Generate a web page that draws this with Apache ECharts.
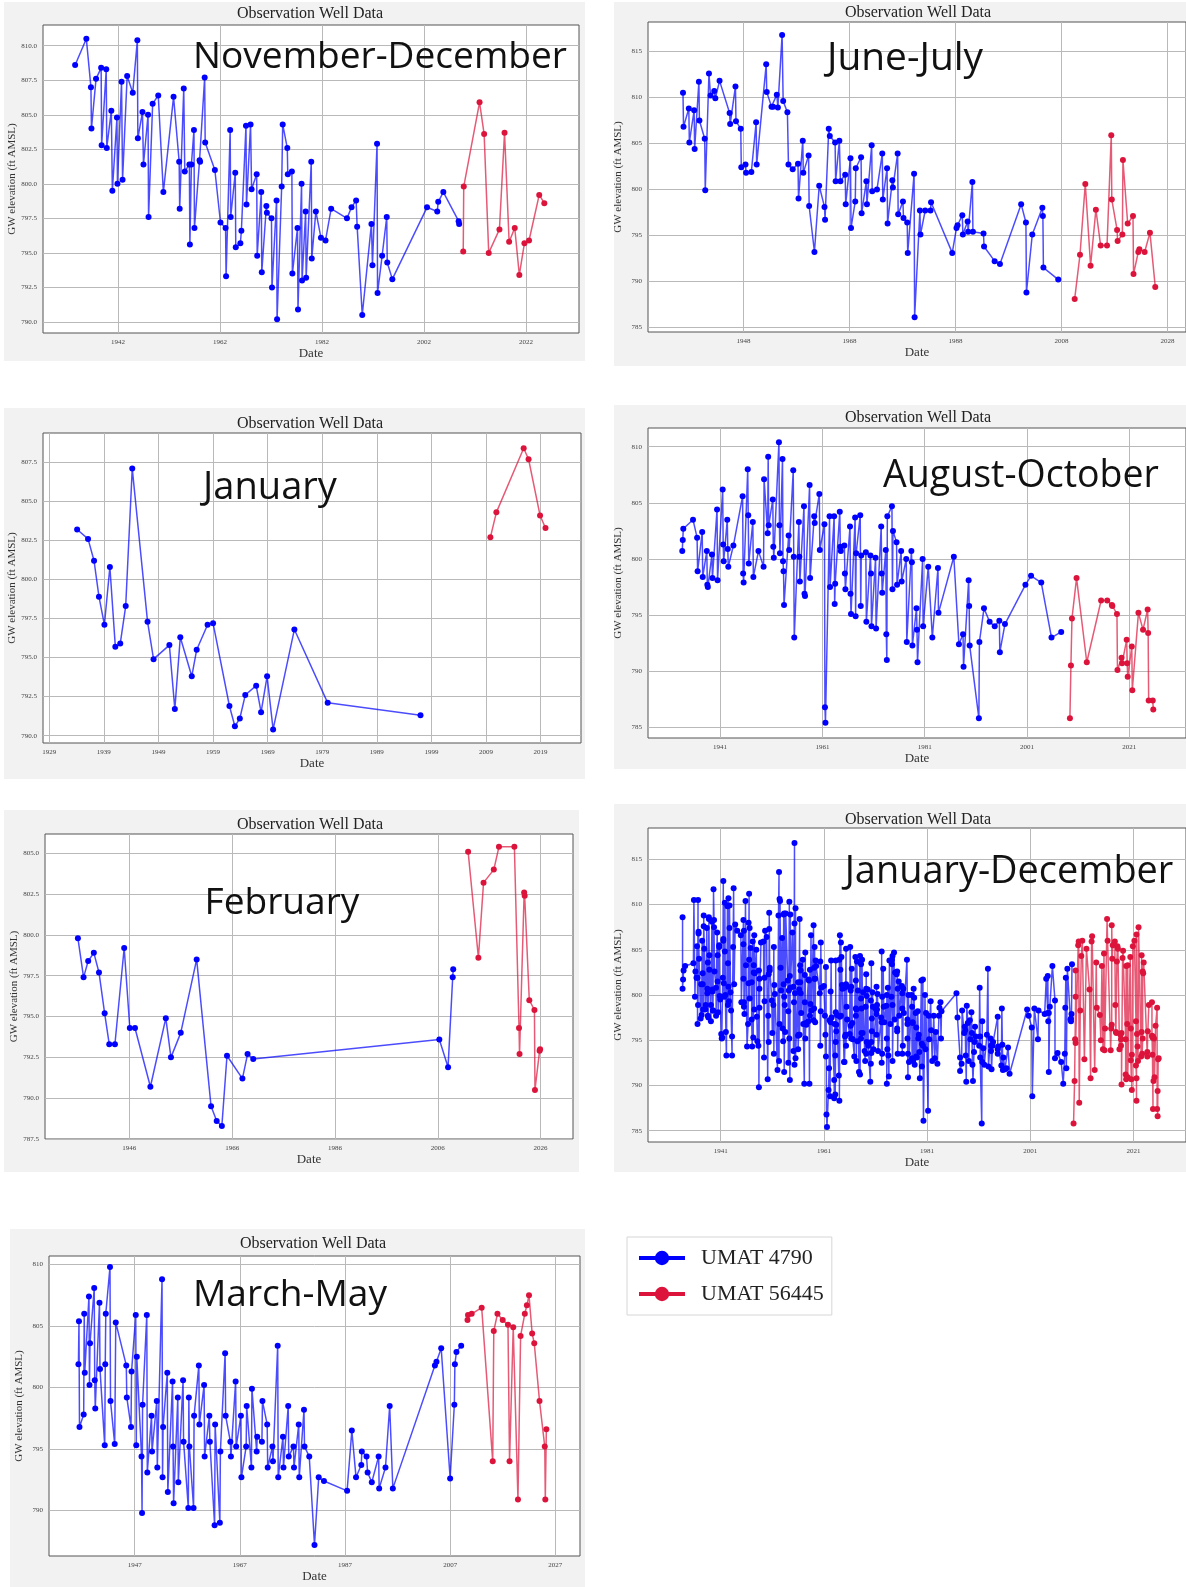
<!DOCTYPE html>
<html><head><meta charset="utf-8">
<script src="https://cdn.jsdelivr.net/npm/echarts@6/dist/echarts.min.js"></script>
<style>html,body{margin:0;padding:0;background:#fff}#c{width:1186px;height:1587px}</style>
</head><body><div id="c"></div>
<script>
// ---------------- DATA (year, GW elevation ft AMSL) ----------------
const seriesNames = ['UMAT 4790', 'UMAT 56445'];

const novDecBlue = [[1933.6,808.6],[1935.8,810.5],[1936.7,807.0],[1936.8,804.0],[1937.7,807.6],[1938.7,808.4],[1938.8,802.8],[1939.7,808.3],[1939.8,802.6],[1940.7,805.3],[1940.9,799.5],[1941.8,804.8],[1941.9,800.0],[1942.7,807.4],[1942.9,800.3],[1943.8,807.8],[1944.9,806.6],[1945.8,810.4],[1945.9,803.3],[1946.8,805.2],[1947.0,801.4],[1947.9,805.0],[1948.0,797.6],[1948.8,805.8],[1949.9,806.4],[1950.9,799.4],[1952.9,806.3],[1954.0,801.6],[1954.1,798.2],[1954.9,806.9],[1955.1,800.9],[1956.0,801.4],[1956.1,795.6],[1956.4,801.4],[1956.9,803.9],[1957.0,796.8],[1958.0,801.7],[1958.1,801.6],[1959.0,807.7],[1959.1,803.0],[1961.0,801.0],[1962.1,797.2],[1963.1,796.8],[1963.2,793.3],[1964.0,803.9],[1964.1,797.6],[1965.0,800.8],[1965.1,795.4],[1966.0,795.7],[1966.2,796.6],[1967.1,804.2],[1967.2,798.5],[1968.0,804.3],[1968.2,799.6],[1969.2,800.7],[1969.3,794.8],[1970.1,799.4],[1970.2,793.6],[1971.1,798.4],[1971.2,797.9],[1972.1,797.5],[1972.2,792.5],[1973.1,798.8],[1973.2,790.2],[1974.1,799.8],[1974.3,804.3],[1975.2,802.6],[1975.3,800.7],[1976.1,800.9],[1976.2,793.5],[1977.2,796.8],[1977.3,790.9],[1978.0,800.0],[1978.1,793.0],[1978.8,798.0],[1978.9,793.2],[1979.9,801.6],[1980.0,794.6],[1980.8,798.0],[1981.8,796.1],[1982.7,795.9],[1983.8,798.2],[1986.9,797.5],[1987.8,798.3],[1988.7,798.8],[1988.9,796.9],[1989.9,790.5],[1991.7,797.1],[1991.9,794.1],[1992.8,802.9],[1992.9,792.1],[1993.8,794.8],[1994.7,797.6],[1994.8,794.3],[1995.8,793.1],[2002.6,798.3],[2004.6,798.0],[2004.8,798.7],[2005.8,799.4],[2008.8,797.3],[2008.9,797.1]];
const novDecRed = [[2009.7,795.1],[2009.8,799.8],[2012.9,805.9],[2013.8,803.6],[2014.7,795.0],[2016.8,796.7],[2017.8,803.7],[2018.7,795.8],[2019.8,796.8],[2020.7,793.4],[2021.7,795.7],[2022.6,795.9],[2024.6,799.2],[2025.6,798.6]];

const junJulBlue = [[1936.6,810.5],[1936.7,806.8],[1937.7,808.8],[1937.8,805.1],[1938.7,808.6],[1938.8,804.4],[1939.6,811.7],[1939.7,807.5],[1940.7,805.5],[1940.8,799.9],[1941.5,812.6],[1941.8,810.2],[1942.5,810.7],[1942.7,809.9],[1943.5,811.8],[1945.4,808.3],[1945.5,807.1],[1946.5,811.2],[1946.6,807.4],[1947.5,806.6],[1947.6,802.4],[1948.4,802.7],[1948.5,801.8],[1949.5,801.9],[1950.4,807.3],[1950.5,802.7],[1952.3,813.6],[1952.4,810.6],[1953.3,809.0],[1953.6,809.0],[1954.3,810.3],[1954.5,808.9],[1955.3,816.8],[1955.5,809.6],[1956.3,808.4],[1956.5,802.7],[1957.3,802.2],[1958.3,802.8],[1958.4,799.0],[1959.2,805.3],[1959.3,801.8],[1960.3,803.7],[1960.4,798.2],[1961.4,793.2],[1962.3,800.4],[1963.3,798.1],[1963.4,796.7],[1964.1,806.6],[1964.3,805.8],[1965.3,805.1],[1965.4,800.9],[1966.1,805.3],[1966.3,800.9],[1967.2,801.6],[1967.3,798.4],[1968.2,803.4],[1968.3,795.8],[1969.1,798.7],[1969.2,802.3],[1970.2,803.5],[1970.3,797.4],[1971.2,800.9],[1971.3,798.4],[1972.2,804.8],[1972.3,799.8],[1973.2,800.0],[1974.2,803.9],[1974.3,798.9],[1975.1,802.3],[1975.2,796.3],[1976.1,801.0],[1976.2,800.2],[1977.1,803.9],[1977.2,797.3],[1978.1,798.7],[1978.2,796.9],[1978.9,796.4],[1979.0,793.1],[1980.2,801.7],[1980.3,786.1],[1981.3,797.7],[1981.4,795.1],[1982.3,797.7],[1983.3,797.7],[1983.4,798.6],[1987.4,793.1],[1988.2,795.8],[1988.4,796.1],[1989.3,797.2],[1989.4,795.1],[1990.3,796.5],[1990.4,795.4],[1991.2,800.8],[1991.3,795.4],[1993.3,795.2],[1993.4,793.8],[1995.4,792.2],[1996.4,791.9],[2000.4,798.4],[2001.3,796.4],[2001.4,788.8],[2002.5,795.1],[2004.4,798.0],[2004.5,797.1],[2004.6,791.5],[2007.4,790.2]];
const junJulRed = [[2010.5,788.1],[2011.5,792.9],[2012.5,800.6],[2013.5,791.7],[2014.5,797.8],[2015.4,793.9],[2016.6,793.9],[2017.4,805.9],[2017.5,798.9],[2018.5,795.6],[2018.6,794.4],[2019.5,795.1],[2019.6,803.2],[2020.5,796.3],[2021.5,797.1],[2021.6,790.8],[2022.5,793.2],[2022.7,793.5],[2023.7,793.2],[2024.7,795.3],[2025.7,789.4]];

const janBlue = [[1934.1,803.2],[1936.1,802.6],[1937.2,801.2],[1938.1,798.9],[1939.1,797.1],[1940.1,800.8],[1941.1,795.7],[1942.0,795.9],[1943.0,798.3],[1944.2,807.1],[1947.0,797.3],[1948.1,794.9],[1951.0,795.8],[1952.0,791.7],[1953.0,796.3],[1955.1,793.8],[1956.0,795.5],[1958.0,797.1],[1959.0,797.2],[1962.0,791.9],[1963.0,790.6],[1963.9,791.1],[1964.9,792.6],[1966.9,793.2],[1967.8,791.5],[1968.9,793.8],[1970.0,790.4],[1973.9,796.8],[1980.0,792.1],[1997.0,791.3]];
const janRed = [[2009.8,802.7],[2010.9,804.3],[2015.9,808.4],[2016.8,807.7],[2018.9,804.1],[2019.9,803.3]];

const augOctBlue = [[1933.6,800.7],[1933.7,801.7],[1933.8,802.7],[1935.7,803.5],[1936.5,801.9],[1936.6,798.9],[1937.5,802.4],[1937.6,798.4],[1938.4,800.7],[1938.5,797.7],[1938.6,797.5],[1939.4,800.4],[1939.5,798.3],[1940.4,804.4],[1940.5,798.1],[1941.5,806.2],[1941.6,801.3],[1941.7,799.8],[1942.4,803.5],[1942.5,800.9],[1942.6,799.3],[1943.6,801.2],[1945.4,805.6],[1945.5,798.7],[1945.6,797.9],[1946.4,808.0],[1946.5,803.9],[1946.6,799.6],[1947.4,803.3],[1947.5,798.4],[1948.5,800.7],[1949.5,799.3],[1949.6,807.1],[1950.3,802.3],[1950.4,809.1],[1950.5,803.0],[1951.3,805.3],[1951.4,801.1],[1951.5,800.1],[1952.5,810.4],[1952.6,803.0],[1952.7,800.5],[1953.2,808.9],[1953.3,799.8],[1953.4,798.9],[1953.5,795.9],[1954.4,802.1],[1954.5,800.8],[1955.3,807.9],[1955.4,800.2],[1955.5,793.0],[1956.4,803.3],[1956.5,800.2],[1956.6,798.0],[1957.4,804.7],[1957.5,796.9],[1957.6,796.7],[1958.5,806.6],[1958.6,798.3],[1959.4,803.8],[1959.5,803.2],[1960.4,805.8],[1960.5,800.8],[1961.4,803.1],[1961.5,786.8],[1961.6,785.4],[1962.4,803.8],[1962.5,797.5],[1963.3,803.8],[1963.4,796.0],[1963.5,797.8],[1964.4,804.2],[1964.5,801.1],[1964.6,800.7],[1965.3,801.2],[1965.4,798.7],[1965.5,797.3],[1966.4,802.9],[1966.5,796.9],[1966.6,795.1],[1967.4,803.7],[1967.5,794.9],[1967.6,800.5],[1968.4,803.9],[1968.5,795.8],[1968.6,800.3],[1969.5,800.6],[1969.6,794.4],[1970.4,800.3],[1970.5,798.7],[1970.6,794.0],[1971.4,800.1],[1971.5,793.8],[1972.5,802.9],[1972.6,798.7],[1972.7,797.0],[1973.4,800.8],[1973.5,793.3],[1973.6,791.0],[1973.7,803.8],[1974.6,804.7],[1974.7,797.3],[1974.8,802.5],[1975.5,801.5],[1975.6,797.7],[1976.4,800.7],[1976.5,798.0],[1977.4,800.0],[1977.5,792.6],[1978.4,800.7],[1978.5,799.7],[1978.6,792.3],[1979.4,795.6],[1979.5,793.7],[1979.6,790.8],[1980.6,800.0],[1980.7,794.0],[1981.7,799.3],[1982.5,793.0],[1983.6,799.2],[1983.7,795.2],[1986.7,800.2],[1987.7,792.4],[1988.5,793.3],[1988.6,790.4],[1989.6,798.1],[1989.7,795.8],[1989.8,792.3],[1991.6,785.8],[1991.7,792.6],[1992.6,795.6],[1993.7,794.4],[1994.7,794.0],[1995.6,794.5],[1995.7,791.7],[1996.7,794.2],[2000.7,797.7],[2001.8,798.5],[2003.8,797.9],[2005.8,793.0],[2007.7,793.5]];
const augOctRed = [[2009.4,785.8],[2009.6,790.5],[2009.8,794.7],[2010.7,798.3],[2012.7,790.8],[2015.5,796.3],[2016.7,796.3],[2017.6,795.9],[2017.7,795.8],[2018.6,795.1],[2018.7,790.1],[2019.5,791.2],[2019.6,790.7],[2020.5,792.8],[2020.6,790.7],[2020.7,789.5],[2021.5,792.2],[2021.6,788.3],[2022.8,795.2],[2023.7,793.7],[2024.6,795.5],[2024.7,793.4],[2024.8,787.4],[2025.6,787.4],[2025.7,786.6]];

const febBlue = [[1936.0,799.8],[1937.1,797.4],[1938.0,798.4],[1939.1,798.9],[1940.1,797.7],[1941.2,795.2],[1942.1,793.3],[1943.2,793.3],[1945.0,799.2],[1946.1,794.3],[1947.1,794.3],[1950.1,790.7],[1953.1,794.9],[1954.1,792.5],[1956.0,794.0],[1959.1,798.5],[1961.9,789.5],[1963.0,788.6],[1964.0,788.3],[1965.0,792.6],[1968.0,791.2],[1969.0,792.7],[1970.1,792.4],[2006.3,793.6],[2008.0,791.9],[2008.9,797.4],[2009.0,797.9]];
const febRed = [[2011.9,805.1],[2013.9,798.6],[2014.9,803.2],[2016.9,804.0],[2017.9,805.4],[2020.9,805.4],[2021.8,794.3],[2021.9,792.7],[2022.8,802.6],[2022.9,802.4],[2023.8,796.0],[2024.8,795.4],[2024.9,790.5],[2025.8,792.9],[2025.9,793.0]];

const marMayBlue = [[1936.3,801.9],[1936.4,805.4],[1936.5,796.8],[1937.3,797.8],[1937.4,806.0],[1937.5,801.2],[1938.3,807.4],[1938.4,800.2],[1938.5,803.6],[1939.3,808.1],[1939.4,800.6],[1939.5,798.3],[1940.3,806.9],[1940.4,801.5],[1941.3,795.3],[1941.4,801.9],[1941.5,806.0],[1942.3,809.8],[1942.4,798.9],[1943.2,795.4],[1943.4,805.3],[1945.4,801.8],[1945.5,799.2],[1946.3,796.8],[1946.4,801.3],[1947.2,805.9],[1947.3,795.3],[1947.4,802.5],[1948.3,794.4],[1948.4,789.8],[1948.5,798.6],[1949.3,805.9],[1949.4,793.1],[1950.2,797.7],[1950.3,794.8],[1951.2,798.9],[1951.3,793.5],[1952.2,808.8],[1952.3,792.7],[1952.4,796.8],[1953.2,801.2],[1953.3,791.5],[1954.2,800.5],[1954.3,795.2],[1954.4,790.6],[1955.2,799.2],[1955.3,792.3],[1956.2,800.6],[1956.3,795.6],[1957.2,790.2],[1957.3,799.2],[1957.4,795.2],[1958.2,790.2],[1958.3,797.7],[1959.2,801.8],[1959.3,797.0],[1960.2,800.2],[1960.3,794.4],[1961.2,797.7],[1961.3,795.6],[1962.2,788.8],[1962.3,797.0],[1963.2,789.0],[1963.3,794.8],[1964.2,802.8],[1964.3,797.7],[1965.2,795.6],[1965.3,794.4],[1966.2,800.5],[1966.3,795.2],[1967.2,797.7],[1967.3,792.7],[1968.2,795.2],[1968.3,798.5],[1969.2,793.5],[1969.3,799.9],[1970.2,794.8],[1970.3,796.0],[1971.2,795.6],[1971.3,798.9],[1972.2,797.0],[1972.3,793.5],[1973.2,795.2],[1973.3,794.0],[1974.2,803.4],[1974.3,792.7],[1975.2,796.0],[1975.3,793.5],[1976.2,798.5],[1976.3,794.4],[1977.2,795.2],[1977.3,793.5],[1978.2,797.0],[1978.3,792.7],[1979.2,798.2],[1979.3,795.2],[1980.2,794.4],[1981.2,787.2],[1982.0,792.7],[1983.0,792.4],[1987.4,791.6],[1988.3,796.5],[1989.1,792.7],[1990.1,793.7],[1990.2,794.8],[1991.1,794.4],[1991.3,793.1],[1992.1,792.3],[1993.4,794.4],[1993.5,791.8],[1994.7,793.5],[1995.5,798.5],[1996.1,791.8],[2004.1,801.8],[2004.4,802.1],[2005.3,803.2],[2007.0,792.6],[2007.8,798.6],[2007.9,801.9],[2008.2,802.9],[2009.1,803.4]];
const marMayRed = [[2010.3,805.5],[2010.4,805.9],[2011.1,806.0],[2013.0,806.5],[2015.1,794.0],[2015.3,804.6],[2016.0,806.0],[2017.0,805.5],[2018.0,805.1],[2018.3,794.0],[2019.0,804.9],[2019.9,790.9],[2020.4,804.2],[2021.2,806.0],[2021.6,806.7],[2022.0,807.5],[2022.6,804.4],[2023.0,803.6],[2024.0,798.9],[2025.0,795.2],[2025.1,790.9],[2025.3,796.6]];

// January-December = all monthly groups together, in date order
const byDate = (a, b) => a[0] - b[0];
const allBlue = [].concat(novDecBlue, junJulBlue, janBlue, augOctBlue, febBlue, marMayBlue).sort(byDate);
const allRed = [].concat(novDecRed, junJulRed, janRed, augOctRed, febRed, marMayRed).sort(byDate);

// tick labels
const xTicksNovDec = [1942, 1962, 1982, 2002, 2022];
const xTicksJunJul = [1948, 1968, 1988, 2008, 2028];
const xTicksJan = [1929, 1939, 1949, 1959, 1969, 1979, 1989, 1999, 2009, 2019];
const xTicksAugOct = [1941, 1961, 1981, 2001, 2021];
const xTicksFeb = [1946, 1966, 1986, 2006, 2026];
const xTicksJanDec = [1941, 1961, 1981, 2001, 2021];
const xTicksMarMay = [1947, 1967, 1987, 2007, 2027];
const yTicksNovDec = [790, 792.5, 795, 797.5, 800, 802.5, 805, 807.5, 810];
const yTicksJunJul = [785, 790, 795, 800, 805, 810, 815];
const yTicksJan = [790, 792.5, 795, 797.5, 800, 802.5, 805, 807.5];
const yTicksAugOct = [785, 790, 795, 800, 805, 810];
const yTicksFeb = [787.5, 790, 792.5, 795, 797.5, 800, 802.5, 805];
const yTicksJanDec = [785, 790, 795, 800, 805, 810, 815];
const yTicksMarMay = [790, 795, 800, 805, 810];

// ---------------- LAYOUT ----------------
const panels = [
  {label:'November-December', bg:[4,2,581,359], grid:[43,25,536,308], x:[1927.3,2032.4], xt:xTicksNovDec, y:[789.2,811.5], yt:yTicksNovDec, dec:1, title:[310,14], lab:[380,57,374], blue:novDecBlue, red:novDecRed},
  {label:'June-July', bg:[614,2,572,364], grid:[648,22,538,310], x:[1930.0,2031.5], xt:xTicksJunJul, y:[784.5,818.2], yt:yTicksJunJul, dec:0, title:[918,13], lab:[905,59,156], blue:junJulBlue, red:junJulRed},
  {label:'January', bg:[4,408,581,371], grid:[43,433,538,310], x:[1927.85,2026.4], xt:xTicksJan, y:[789.53,809.38], yt:yTicksJan, dec:1, title:[310,424], lab:[270,488,134], blue:janBlue, red:janRed},
  {label:'August-October', bg:[614,405,572,364], grid:[648,428,538,310], x:[1926.9,2032.1], xt:xTicksAugOct, y:[784.05,811.67], yt:yTicksAugOct, dec:0, title:[918,418], lab:[1021,476,276], blue:augOctBlue, red:augOctRed},
  {label:'February', bg:[4,810,575,362], grid:[45,834,528,305], x:[1929.6,2032.3], xt:xTicksFeb, y:[787.5,806.18], yt:yTicksFeb, dec:1, title:[310,825], lab:[282,903,155], blue:febBlue, red:febRed},
  {label:'January-December', bg:[614,804,572,368], grid:[648,828,538,314], x:[1926.9,2031.2], xt:xTicksJanDec, y:[783.75,818.46], yt:yTicksJanDec, dec:0, title:[918,820], lab:[1009,872,329], blue:allBlue, red:allRed},
  {label:'March-May', bg:[10,1229,575,358], grid:[49,1256,531,300], x:[1930.7,2031.7], xt:xTicksMarMay, y:[786.3,810.7], yt:yTicksMarMay, dec:0, title:[313,1244], lab:[290,1295,194], blue:marMayBlue, red:marMayRed}
];

const SERIF = '"Liberation Serif", "Times New Roman", serif';
const SANS = '"Open Sans", "Noto Sans", sans-serif';
const BLUE = '#0000ff', RED = '#dc143c';

const mctx = document.createElement('canvas').getContext('2d');
function fitSize(text, width) {
  mctx.font = '100px ' + SANS;
  return 100 * width / mctx.measureText(text).width;
}

const option = {
  animation: false,
  backgroundColor: '#ffffff',
  grid: [], xAxis: [], yAxis: [], series: [], graphic: [],
  legend: {
    left: 627, top: 1237, orient: 'vertical',
    padding: [10, 8, 10, 10], itemGap: 14,
    itemWidth: 46, itemHeight: 18,
    backgroundColor: '#ffffff', borderColor: '#d6d6d6', borderWidth: 1,
    textStyle: {fontFamily: SERIF, fontSize: 22, color: '#222', padding: [0, 0, 0, 11]},
    data: [
      {name: seriesNames[0], lineStyle: {width: 4, opacity: 1}},
      {name: seriesNames[1], lineStyle: {width: 4, opacity: 1}}
    ]
  }
};

panels.forEach((p, i) => {
  option.graphic.push({type: 'rect', silent: true, z: -100,
    shape: {x: p.bg[0], y: p.bg[1], width: p.bg[2], height: p.bg[3]},
    style: {fill: '#f2f2f2'}});
  option.graphic.push({type: 'text', silent: true, z: 100,
    style: {text: 'Observation Well Data', x: p.title[0], y: p.title[1],
      textAlign: 'center', textVerticalAlign: 'middle',
      font: '16px ' + SERIF, fill: '#222'}});
  const fs = fitSize(p.label, p.lab[2]);
  option.graphic.push({type: 'text', silent: true, z: 100,
    style: {text: p.label, x: p.lab[0], y: p.lab[1],
      textAlign: 'center', textVerticalAlign: 'middle',
      font: fs.toFixed(1) + 'px ' + SANS, fill: '#111'}});

  option.grid.push({left: p.grid[0], top: p.grid[1], width: p.grid[2], height: p.grid[3],
    show: true, backgroundColor: '#ffffff', borderColor: '#555555', borderWidth: 1});
  option.xAxis.push({
    type: 'value', gridIndex: i, min: p.x[0], max: p.x[1],
    axisLine: {show: false},
    axisTick: {show: false, customValues: p.xt},
    axisLabel: {customValues: p.xt, fontSize: 7, fontFamily: SERIF, color: '#444', margin: 6,
      formatter: v => String(Math.round(v))},
    splitLine: {show: true, lineStyle: {color: '#b9b9b9', width: 1}},
    name: 'Date', nameLocation: 'middle', nameGap: 14,
    nameTextStyle: {fontFamily: SERIF, fontSize: 13, color: '#333'}
  });
  option.yAxis.push({
    type: 'value', gridIndex: i, min: p.y[0], max: p.y[1],
    axisLine: {show: false},
    axisTick: {show: false, customValues: p.yt},
    axisLabel: {customValues: p.yt, fontSize: 7, fontFamily: SERIF, color: '#444', margin: 6,
      formatter: v => v.toFixed(p.dec)},
    splitLine: {show: true, lineStyle: {color: '#b9b9b9', width: 1}},
    name: 'GW elevation (ft AMSL)', nameLocation: 'middle', nameGap: 24,
    nameTextStyle: {fontFamily: SERIF, fontSize: 11, color: '#333'}
  });
  [[p.blue, BLUE, seriesNames[0]], [p.red, RED, seriesNames[1]]].forEach(([d, col, nm]) => {
    option.series.push({
      type: 'line', name: nm, xAxisIndex: i, yAxisIndex: i, data: d,
      symbol: 'circle', symbolSize: 6, showSymbol: true,
      itemStyle: {color: col},
      lineStyle: {color: col, width: 1.5, opacity: 0.7},
      emphasis: {disabled: true}
    });
  });
});

const chart = echarts.init(document.getElementById('c'), null, {renderer: 'canvas'});
chart.setOption(option);
</script>
</body></html>
